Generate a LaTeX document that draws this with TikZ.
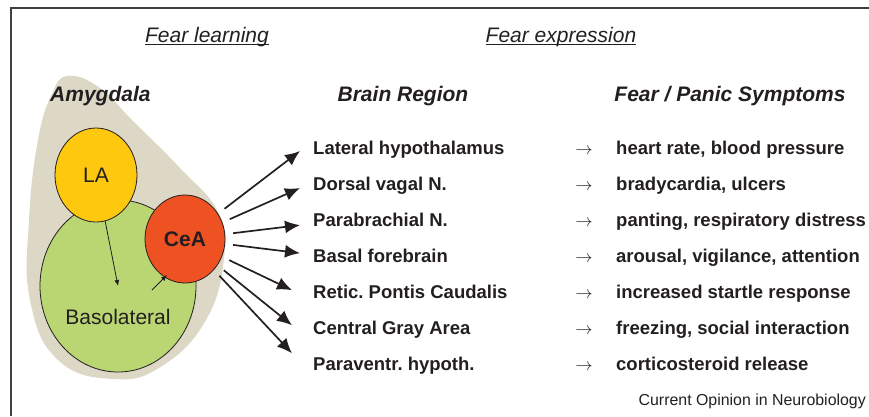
\documentclass[tikz,border=0pt]{standalone}
\usepackage{fontspec}
\setmainfont{Liberation Sans}
\usepackage{xcolor}
\usetikzlibrary{arrows.meta,shapes.geometric}
\definecolor{ink}{HTML}{231F20}
\definecolor{amygbg}{HTML}{DDD7C6}
\definecolor{layellow}{HTML}{FEC80F}
\definecolor{blagreen}{HTML}{B9D673}
\definecolor{cered}{HTML}{EE5122}
\frenchspacing

\begin{document}
\begin{tikzpicture}[x=1pt,y=-1pt,
    every node/.style={text=ink},
    topic/.style={font=\fontsize{21}{24}\selectfont\itshape, anchor=base, inner sep=0pt},
    head/.style={font=\fontsize{21}{24}\selectfont\bfseries\itshape, anchor=base, inner sep=0pt},
    row/.style={font=\fontsize{18.5}{21}\selectfont\bfseries, anchor=base west, inner sep=0pt,
        text height=13pt, text depth=4pt},
    nucleus/.style={ellipse, draw=ink, line width=0.8pt, inner sep=0pt,
        font=\fontsize{21}{24}\selectfont},
    fan/.style={-{Latex[length=15pt,width=13pt]}, line width=1.7pt, draw=ink, shorten <=8pt},
    inner/.style={-{Latex[length=6pt,width=5pt]}, line width=0.8pt, draw=ink}]
\useasboundingbox (0,0) rectangle (869,416);

% cadre
\draw[line width=1.3pt, black!75] (11,416) |- (869,8);

%%% titres
\node[topic] (learn) at (207,42) {Fear learning};
\node[topic] (expr) at (561,42) {Fear expression};
\draw[line width=0.8pt, ink] ([yshift=-2.5pt]learn.base west) -- ([yshift=-2.5pt]learn.base east);
\draw[line width=0.8pt, ink] ([yshift=-2.5pt]expr.base west) -- ([yshift=-2.5pt]expr.base east);

\node[head] (brain) at (403,101) {Brain Region};
\node[head] (symp) at (730,101) {Fear / Panic Symptoms};

%%% amygdale
\fill[amygbg] plot[smooth cycle, tension=0.75] coordinates {(68,76) (100,88) (132,120)
    (180,168) (218,212) (224,258) (206,320) (162,366) (114,379) (58,360) (30,300)
    (29,220) (38,140) (52,94)};
\node[head, anchor=base west] (amyg) at (50,101) {Amygdala};

\node[nucleus, fill=blagreen, minimum width=156pt, minimum height=172pt] (bla) at (118,286) {};
\node[font=\fontsize{21}{24}\selectfont] (blatext) at (118,317) {Basolateral};
\node[nucleus, fill=layellow, minimum width=82pt, minimum height=94pt] (la) at (96,175) {LA};
\node[nucleus, fill=cered, minimum width=80pt, minimum height=88pt, font=\fontsize{21}{24}\selectfont\bfseries] (cea) at (185,239) {CeA};

% liens internes
\coordinate (blaout) at (152,290);
\coordinate (ceain) at (167,275);
\draw[inner] (la) -- (bla.center);
\draw[inner] (blaout) -- (ceain);

%%% regions et symptomes
\foreach \reg/\sym [count=\i] in {Lateral hypothalamus/{heart rate, blood pressure},
    Dorsal vagal N./{bradycardia, ulcers},
    Parabrachial N./{panting, respiratory distress},
    Basal forebrain/{arousal, vigilance, attention},
    Retic. Pontis Caudalis/{increased startle response},
    Central Gray Area/{freezing, social interaction},
    Paraventr. hypoth./{corticosteroid release}} {
  \pgfmathsetmacro\yb{118.45+36.05*\i}
  \node[row] (r\i) at (313,\yb) {\reg};
  \node[row, anchor=base, font=\fontsize{18.5}{21}\selectfont] (t\i) at (584,\yb) {$\rightarrow$};
  \node[row] (s\i) at (616,\yb) {\sym};
}

%%% fleches
\foreach \i/\dx/\dy in {1/-13/1, 2/-13/2, 3/-13/3, 4/-13/-5, 5/-21/-4, 6/-21/-5, 7/-21/-13}
  \draw[fan] (cea) -- ([shift={(\dx,\dy)}]r\i.west);

%%% source
\node[font=\fontsize{15.9}{18}\selectfont, anchor=base east, inner sep=0pt] (src) at (866,405) {Current Opinion in Neurobiology};
\end{tikzpicture}
\end{document}
